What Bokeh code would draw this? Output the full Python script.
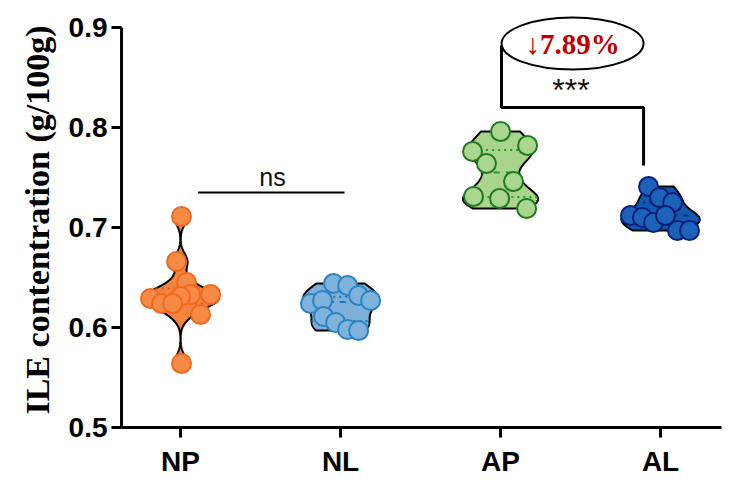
import numpy as np
from bokeh.plotting import figure
from bokeh.models import Range1d, FixedTicker
from bokeh.embed import file_html
from bokeh.resources import INLINE
from bokeh.core.properties import value

# ---------------- data ----------------
categories = ["NP", "NL", "AP", "AL"]

np_vals = [0.711, 0.666, 0.645, 0.633, 0.631, 0.633, 0.629, 0.624, 0.624, 0.613, 0.564]
nl_vals = [0.644, 0.642, 0.632, 0.627, 0.624, 0.627, 0.611, 0.605, 0.598, 0.597]
ap_vals = [0.796, 0.782, 0.776, 0.764, 0.746, 0.731, 0.729, 0.719]
al_vals = [0.741, 0.730, 0.725, 0.712, 0.710, 0.705, 0.712, 0.697, 0.697]

# horizontal scatter of the dots (beeswarm offsets, in category units)
np_jitter = [0.006, -0.025, 0.038, 0.063, 0.0, 0.188, -0.188, -0.119, -0.05, 0.125, 0.006]
nl_jitter = [-0.044, 0.044, 0.113, 0.188, -0.188, -0.113, -0.106, -0.031, 0.044, 0.113]
ap_jitter = [0.0, 0.169, -0.175, -0.088, 0.081, -0.169, -0.006, 0.163]
al_jitter = [-0.075, -0.006, 0.075, -0.188, -0.113, -0.044, 0.031, 0.106, 0.181]

change_label = "\u21937.89%"
sig_labels = ["ns", "***"]

# ---------------- styles ----------------
groups = [
    dict(vals=np_vals, jit=np_jitter, bw=0.008, hw=0.24, fill="#F5843F", pfill="#F78A45", pline="#F06A1E", qline="#C85A15"),
    dict(vals=nl_vals, jit=nl_jitter, bw=0.010, hw=0.235, fill="#7DAFD9", pfill="#80B3DB", pline="#2A84C4", qline="#2470B0"),
    dict(vals=ap_vals, jit=ap_jitter, bw=0.009, hw=0.235, fill="#A8D48C", pfill="#AAD690", pline="#1E7A1E", qline="#1EA01E"),
    dict(vals=al_vals, jit=al_jitter, bw=0.008, hw=0.245, fill="#1258B0", pfill="#1B62B8", pline="#0A1F78", qline="#0A2A80"),
]

p = figure(width=726, height=483,
           x_range=Range1d(0.631, 4.381), y_range=Range1d(0.5, 0.915),
           output_backend="svg", toolbar_location=None,
           min_border_left=121, min_border_right=5, min_border_top=12, min_border_bottom=56)
p.outline_line_color = None
p.xgrid.visible = False
p.ygrid.visible = False


def kde(vals, bw, n=240):
    v = np.asarray(vals)
    g = np.linspace(v.min(), v.max(), n)
    d = np.exp(-0.5 * ((g[:, None] - v[None, :]) / bw) ** 2).sum(axis=1)
    return g, d / d.max()


for i, g in enumerate(groups):
    cx = i + 1
    grid, dens = kde(g["vals"], g["bw"])
    w = dens * g["hw"]
    xs = np.concatenate([cx + w, (cx - w)[::-1]])
    ys = np.concatenate([grid, grid[::-1]])
    p.patch(xs, ys, fill_color=g["fill"], line_color="black", line_width=2)
    q1, med, q3 = np.percentile(g["vals"], [25, 50, 75])
    for q, dash in ((q1, "dotted"), (med, "dashed"), (q3, "dotted")):
        hw = np.interp(q, grid, w)
        p.line([cx - hw, cx + hw], [q, q], line_color=g["qline"], line_width=2, line_dash=dash)
    px = [cx + j for j in g["jit"]]
    p.scatter(px, g["vals"], size=19, fill_color=g["pfill"], line_color=g["pline"], line_width=2)

# ---------------- annotations ----------------
# ns bracket (NP vs NL)
p.line([1.11, 2.025], [0.735, 0.735], line_color="black", line_width=2)
p.text(x=[1.575], y=[0.751], text=[sig_labels[0]], text_align="center", text_baseline="middle",
       text_font=value("Liberation Sans"), text_font_size="25px", text_color="#111111")

# *** bracket (AP vs AL)
p.line([3.006, 3.006, 3.894, 3.894], [0.882, 0.82, 0.82, 0.762], line_color="black", line_width=3)
p.text(x=[3.44], y=[0.838], text=[sig_labels[1]], text_align="center", text_baseline="middle",
       text_font=value("Liberation Sans"), text_font_size="32px", text_color="#111111")
p.ellipse(x=[3.45], y=[0.884], width=0.8875, height=0.052, fill_color="white",
          line_color="black", line_width=2)
p.text(x=[3.45], y=[0.884], text=[change_label], text_align="center", text_baseline="middle",
       text_font=value("Liberation Serif"), text_font_style="bold", text_font_size="29px",
       text_color="#C00000")

# ---------------- axes ----------------
for ax in (p.xaxis[0], p.yaxis[0]):
    ax.axis_line_width = 3
    ax.axis_line_color = "black"
    ax.major_tick_line_width = 3
    ax.major_tick_line_color = "black"
    ax.major_tick_out = 10
    ax.major_tick_in = 0
    ax.minor_tick_line_color = None
    ax.major_label_text_font = "Liberation Sans"
    ax.major_label_text_font_style = "bold"
    ax.major_label_text_font_size = "28px"
    ax.major_label_text_color = "black"

p.xaxis.ticker = FixedTicker(ticks=[1, 2, 3, 4])
p.xaxis.major_label_overrides = {i + 1: c for i, c in enumerate(categories)}
p.xaxis.major_label_standoff = 8

p.yaxis.ticker = FixedTicker(ticks=[0.5, 0.6, 0.7, 0.8, 0.9])
p.yaxis.bounds = (0.5, 0.9)
p.yaxis.major_label_standoff = 4
p.yaxis.axis_label = "ILE contentration (g/100g)"
p.yaxis.axis_label_text_font = "Liberation Serif"
p.yaxis.axis_label_text_font_style = "bold"
p.yaxis.axis_label_text_font_size = "34px"
p.yaxis.axis_label_text_color = "black"
p.yaxis.axis_label_standoff = 10

open("out.html", "w").write(file_html(p, INLINE))
